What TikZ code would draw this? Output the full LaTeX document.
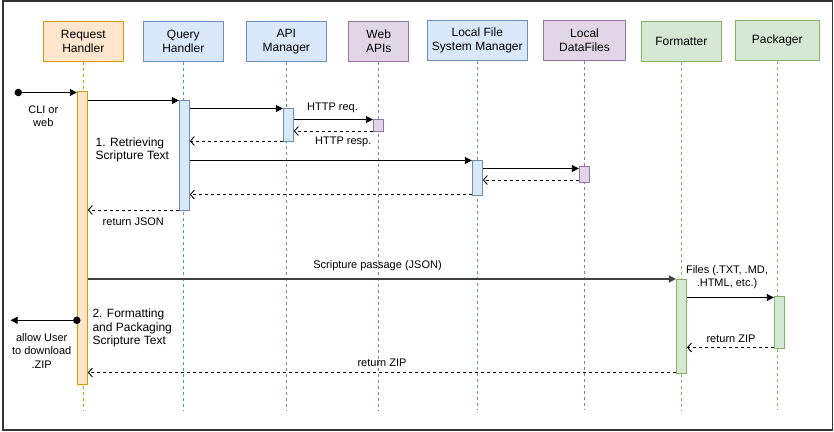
\documentclass[tikz,border=0pt]{standalone}
\usepackage{fontspec}
\setmainfont{Liberation Sans}
\usetikzlibrary{arrows.meta}

\definecolor{ofill}{HTML}{FFE6CC}
\definecolor{oline}{HTML}{D79B00}
\definecolor{bfill}{HTML}{DAE8FC}
\definecolor{bline}{HTML}{6C8EBF}
\definecolor{pfill}{HTML}{E1D5E7}
\definecolor{pline}{HTML}{9673A6}
\definecolor{gfill}{HTML}{D5E8D4}
\definecolor{gline}{HTML}{82B366}
\definecolor{frame}{HTML}{333333}

\begin{document}
\begin{tikzpicture}[x=1pt,y=-1pt,
  actor/.style={draw, line width=1pt, minimum height=40pt, inner sep=1pt,
    align=center, font=\fontsize{12}{14}\selectfont},
  orangebox/.style={fill=ofill, draw=oline},
  bluebox/.style={fill=bfill, draw=bline},
  purplebox/.style={fill=pfill, draw=pline},
  greenbox/.style={fill=gfill, draw=gline},
  life/.style={dash pattern=on 3pt off 3pt, line width=0.8pt},
  bar/.style={draw, line width=1pt, minimum width=10pt, inner sep=0pt},
  msg/.style={line width=0.9pt, -{Triangle[length=7pt,width=7pt]}},
  ret/.style={line width=0.9pt, dash pattern=on 3pt off 3pt,
    -{Straight Barb[length=4pt,width=9pt,line width=0.9pt]}},
  lbl/.style={font=\fontsize{11}{13.5}\selectfont, align=center, inner sep=0pt},
  note/.style={font=\fontsize{12}{13.6}\selectfont, align=left, anchor=west, inner sep=0pt},
  dot/.style={circle, fill=black, inner sep=0pt, minimum size=7.5pt}]

\useasboundingbox (0,0) rectangle (834,431);
\draw[frame, line width=1.5pt] (3,1) rectangle (832.5,430);

% participants
\node[actor, orangebox, minimum width=80pt]  (rh)  at (83.3,41.3)  {Request\\Handler};
\node[actor, bluebox,   minimum width=80pt]  (qh)  at (183.3,41.3) {Query\\Handler};
\node[actor, bluebox,   minimum width=80pt]  (api) at (286.3,41.3) {API\\Manager};
\node[actor, purplebox, minimum width=60pt]  (web) at (378.7,41.3) {Web\\APIs};
\node[actor, bluebox,   minimum width=100pt] (fs)  at (477.3,40.7) {Local File\\System Manager};
\node[actor, purplebox, minimum width=82pt]  (df)  at (584.5,40.7) {Local\\DataFiles};
\node[actor, greenbox,  minimum width=80pt]  (fmt) at (681.3,41.3) {Formatter};
\node[actor, greenbox,  minimum width=84pt]  (pk)  at (777.3,40.7) {Packager};

% lifelines
\foreach \p/\c in {rh/oline, qh/bline, api/bline, web/pline, fs/bline, df/pline, fmt/gline, pk/gline}
  \draw[life, \c] (\p.south) -- (\p.south |- 0,410);

% activation bars
\node[bar, orangebox, minimum height=293pt]  (rhbar)  at (82.3,237.8) {};
\node[bar, bluebox,   minimum height=110pt]  (qhbar)  at (184.3,155.3) {};
\node[bar, bluebox,   minimum height=32.7pt] (apibar) at (288.3,124.7) {};
\node[bar, purplebox, minimum height=12pt]   (webbar) at (378.3,125.3) {};
\node[bar, bluebox,   minimum height=35pt]   (fsbar)  at (477.3,177.8) {};
\node[bar, purplebox, minimum height=16pt]   (dfbar)  at (584.3,174.3) {};
\node[bar, greenbox,  minimum height=94pt]   (fmtbar) at (681.4,326.3) {};
\node[bar, greenbox,  minimum height=52.4pt] (pkbar)  at (779.3,322.5) {};

% entry point
\node[dot] (start) at (18.3,92.5) {};
\draw[msg] (start.center) -- (rhbar.west |- 0,92.5);
\node[lbl] (cli) at (43.3,116) {CLI or\\web};

% 1. retrieving the text
\draw[msg] (rhbar.east |- 0,100.5) -- (qhbar.west |- 0,100.5);
\draw[msg] (qhbar.east |- 0,108.5) -- (apibar.west |- 0,108.5);
\draw[msg] (apibar.east |- 0,119.5) -- (webbar.west |- 0,119.5);
\node[lbl] (httpreq) at (332.5,108) {HTTP req.};
\draw[ret] (webbar.west |- 0,131) -- (apibar.east |- 0,131);
\node[lbl] (httpresp) at (343.3,142) {HTTP resp.};
\draw[ret] (apibar.west |- 0,141) -- (qhbar.east |- 0,141);
\draw[msg] (qhbar.east |- 0,160.5) -- (fsbar.west |- 0,160.5);
\draw[msg] (fsbar.east |- 0,168.5) -- (dfbar.west |- 0,168.5);
\draw[ret] (dfbar.west |- 0,180) -- (fsbar.east |- 0,180);
\draw[ret] (fsbar.west |- 0,194.5) -- (qhbar.east |- 0,194.5);
\draw[ret] (qhbar.west |- 0,210) -- (rhbar.east |- 0,210);
\node[lbl] (rjson) at (133.3,221.5) {return JSON};
\node[note] (step1) at (95.5,150) {1. Retrieving\\Scripture Text};

% 2. formatting and packaging
\draw[msg, black!75, line width=1.3pt] (rhbar.east |- 0,279) -- (fmtbar.west |- 0,279);
\node[lbl] (passage) at (377.5,266) {Scripture passage (JSON)};
\draw[msg] (fmtbar.east |- 0,297.5) -- (pkbar.west |- 0,297.5);
\node[lbl] (files) at (727,277.3) {Files (.TXT, .MD,\\.HTML, etc.)};
\draw[ret] (pkbar.west |- 0,347.5) -- (fmtbar.east |- 0,347.5);
\node[lbl] (rzip1) at (731,338.5) {return ZIP};
\draw[ret] (fmtbar.west |- 0,372.5) -- (rhbar.east |- 0,372.5);
\node[lbl] (rzip2) at (382,363) {return ZIP};
\node[note] (step2) at (92.3,328) {2. Formatting\\and Packaging\\Scripture Text};

% hand-off to the user
\node[dot] (out) at (rhbar.west |- 0,320.3) {};
\coordinate (user) at (10.5,320.3);
\draw[msg] (out.center) -- (user);
\node[lbl] (dl) at (41.7,351) {allow User\\to download\\.ZIP};
\end{tikzpicture}
\end{document}
